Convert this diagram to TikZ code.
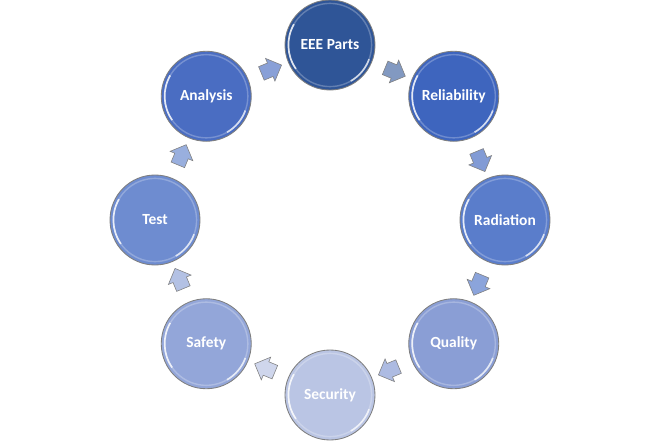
\documentclass[tikz,border=0pt]{standalone}
\usepackage{fontspec}
\setmainfont{Carlito}
\usetikzlibrary{shapes.arrows,calc}
\definecolor{eeeblue}{HTML}{2F5597}
\definecolor{relblue}{HTML}{3E65BE}
\definecolor{radblue}{HTML}{5A7DCB}
\definecolor{qualblue}{HTML}{8A9ED5}
\definecolor{secblue}{HTML}{BAC5E4}
\definecolor{safeblue}{HTML}{93A6D9}
\definecolor{testblue}{HTML}{6E8CD0}
\definecolor{anablue}{HTML}{4A6DC2}
\definecolor{rimgray}{HTML}{7F7F7F}
\tikzset{
  stage/.style={circle, draw=rimgray, line width=0.6pt, minimum size=22.5mm, inner sep=0pt, text=white, font=\fontsize{11}{13}\selectfont\bfseries,
    path picture={
      \draw[white, opacity=0.25, line width=1pt] (path picture bounding box.center) circle (10.4mm);
      \draw[white, opacity=0.8, line width=1.2pt] ($(path picture bounding box.center)+(150:10.4mm)$) arc (150:215:10.4mm);
      \draw[white, opacity=0.7, line width=1.2pt] ($(path picture bounding box.center)+(300:10.4mm)$) arc (300:340:10.4mm);
    }},
  turn/.style={single arrow, draw=rimgray, line width=0.4pt, minimum height=5mm, inner sep=1.75mm, single arrow head extend=1.25mm, sloped, allow upside down}
}

\begin{document}
\begin{tikzpicture}
  \useasboundingbox (-8.25,-5.575) rectangle (8.25,5.5);
  \node[stage, fill=eeeblue] (eee) at (90:4.375) {EEE Parts};
  \node[stage, fill=relblue] (rel) at (45:4.375) {Reliability};
  \node[stage, fill=radblue] (rad) at (0:4.375) {Radiation};
  \node[stage, fill=qualblue] (qual) at (-45:4.375) {Quality};
  \node[stage, fill=secblue] (sec) at (-90:4.375) {Security};
  \node[stage, fill=safeblue] (safe) at (-135:4.375) {Safety};
  \node[stage, fill=testblue] (test) at (180:4.375) {Test};
  \node[stage, fill=anablue] (ana) at (135:4.375) {Analysis};
  % block arrows between the stages
  \path (eee) -- node[turn, fill=eeeblue!60!white] {} (rel);
  \path (rel) -- node[turn, fill=relblue!65!white] {} (rad);
  \path (rad) -- node[turn, fill=radblue!70!white] {} (qual);
  \path (qual) -- node[turn, fill=qualblue!70!white] {} (sec);
  \path (sec) -- node[turn, fill=secblue!70!white] {} (safe);
  \path (safe) -- node[turn, fill=safeblue!70!white] {} (test);
  \path (test) -- node[turn, fill=testblue!70!white] {} (ana);
  \path (ana) -- node[turn, fill=anablue!65!white] {} (eee);
\end{tikzpicture}
\end{document}
